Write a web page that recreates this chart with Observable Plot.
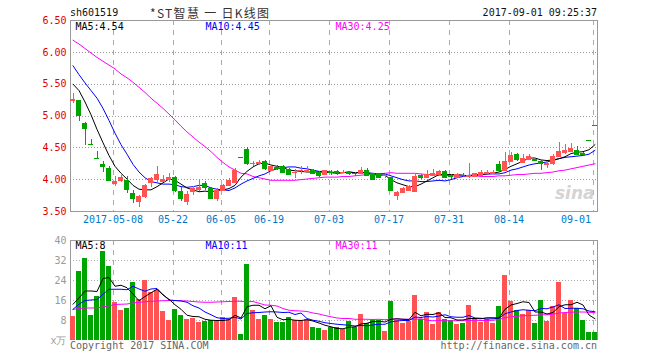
<!DOCTYPE html>
<html><head><meta charset="utf-8">
<script src="https://cdn.jsdelivr.net/npm/d3@7"></script>
<script src="https://cdn.jsdelivr.net/npm/@observablehq/plot@0.6"></script>
<style>
body{margin:0;background:#fff;}
#wrap{position:relative;width:660px;height:360px;overflow:hidden;font-family:"DejaVu Sans Mono",monospace;background:#fff;}
.t{position:absolute;font-size:10px;line-height:12px;white-space:pre;}
#p1{position:absolute;left:0;top:0;}
#p2{position:absolute;left:0;top:230px;}
#p1 svg rect, #p2 svg rect, #p1 svg line, #p2 svg line{shape-rendering:crispEdges;}
</style></head><body>
<div id="wrap">
<div id="p1"></div><div id="p2"></div>
<div class="t" style="left:70px;top:7px;color:#111">sh601519</div>
<div class="t" style="left:150px;top:5px;font-family:'Noto Sans CJK SC',sans-serif;font-size:12px;line-height:16px;color:#333;letter-spacing:1.3px">*ST智慧 一 日K线图</div>
<div class="t" style="right:63px;top:7px;color:#111">2017-09-01 09:25:37</div>
<div class="t" style="left:70px;top:340px;color:#666">Copyright 2017 SINA.COM</div>
<div class="t" style="right:63px;top:340px;color:#666">http://finance.sina.com.cn</div>
</div>
<script>
const open = [5.25,5.25,4.89,4.56,4.33,4.24,4.17,3.94,3.99,3.99, 3.79,3.66,3.73,3.95,4.00,3.97,4.00,4.03,3.81,3.66, 3.81,3.84,3.94,3.86,3.70,3.83,3.91,3.96,4.35,4.48, 4.25,4.26,4.29,4.15,4.19,4.21,4.16,4.11,4.14,4.13, 4.15,4.12,4.08,4.12,4.13,4.11,4.12,4.10,4.09,4.15, 4.09,4.09,4.06,4.03,3.75,3.80,3.83,3.82,4.06,4.04, 4.07,4.08,4.13,4.06,4.04,4.07,4.05,4.05,4.07,4.09, 4.10,4.24,4.14,4.29,4.39,4.27,4.32,4.32,4.29,4.24, 4.25,4.37,4.42,4.44,4.46,4.41,4.62,4.85];
const high = [5.36,5.25,4.90,4.63,4.45,4.28,4.20,4.05,4.07,4.05, 3.83,3.75,3.93,4.03,4.20,4.07,4.09,4.05,3.87,3.82, 3.89,3.98,3.97,3.88,3.86,3.93,4.02,4.18,4.35,4.50, 4.29,4.30,4.30,4.21,4.22,4.23,4.18,4.16,4.20,4.21, 4.16,4.13,4.15,4.14,4.15,4.14,4.13,4.11,4.19,4.17, 4.10,4.10,4.09,4.04,3.81,3.88,3.91,4.09,4.08,4.14, 4.16,4.15,4.14,4.08,4.09,4.09,4.25,4.10,4.15,4.14, 4.14,4.29,4.42,4.43,4.41,4.40,4.39,4.34,4.30,4.29, 4.39,4.59,4.55,4.57,4.52,4.43,4.62,4.85];
const low = [5.20,4.91,4.54,4.56,4.33,4.12,3.98,3.90,3.96,3.78, 3.62,3.56,3.70,3.87,3.96,3.95,3.96,3.80,3.66,3.59, 3.75,3.82,3.83,3.70,3.66,3.82,3.90,3.95,4.35,4.23, 4.21,4.22,4.14,4.13,4.15,4.10,4.06,4.02,4.08,4.10, 4.08,4.04,4.07,4.06,4.06,4.09,4.07,4.05,4.08,4.06, 3.98,4.03,4.02,3.81,3.68,3.78,3.82,3.80,4.00,4.03, 4.06,4.07,4.02,4.01,4.02,4.03,4.02,4.04,4.06,4.08, 4.08,4.13,4.13,4.27,4.28,4.25,4.30,4.28,4.14,4.18, 4.22,4.35,4.40,4.42,4.38,4.37,4.62,4.85];
const close = [5.26,5.01,4.80,4.56,4.33,4.20,3.99,3.97,4.03,3.84, 3.70,3.73,3.91,4.02,4.08,4.01,4.03,3.83,3.71,3.76, 3.86,3.88,3.87,3.70,3.83,3.91,3.99,4.14,4.35,4.25, 4.26,4.27,4.17,4.20,4.17,4.12,4.08,4.12,4.15,4.15, 4.10,4.06,4.14,4.11,4.11,4.12,4.10,4.09,4.15,4.07, 4.00,4.04,4.07,3.83,3.80,3.86,3.89,4.05,4.04,4.08, 4.10,4.13,4.04,4.05,4.08,4.06,4.07,4.09,4.12,4.12, 4.12,4.15,4.28,4.38,4.31,4.34,4.37,4.30,4.25,4.26, 4.37,4.45,4.46,4.49,4.40,4.40,4.62,4.85];
const volume = [9.6,27.6,33.0,10.0,17.8,35.7,29.6,15.3,12.0,12.7, 23.2,16.4,23.9,19.1,20.1,11.6,8.0,12.6,10.0,8.5, 8.9,7.3,7.8,8.0,7.8,9.2,8.6,17.1,2.4,30.4, 12.0,8.5,10.0,8.5,7.3,7.3,9.2,8.2,8.2,8.5, 5.1,4.8,3.9,5.1,5.1,4.6,7.6,5.1,10.5,6.9, 8.0,8.0,3.7,15.7,8.0,6.9,7.6,18.2,8.6,11.2, 6.5,11.2,8.6,8.0,6.5,6.9,14.1,8.6,7.3,8.6, 6.9,13.7,25.9,15.7,12.0,10.3,11.9,6.9,16.1,7.6, 13.7,23.1,10.9,16.2,12.7,8.0,3.2,3.2];
const ma5 = [5.50,5.40,5.22,5.02,4.79,4.58,4.38,4.21,4.10,4.01, 3.91,3.85,3.84,3.84,3.89,3.95,4.01,3.99,3.93,3.87, 3.84,3.81,3.82,3.81,3.83,3.84,3.86,3.91,4.04,4.13, 4.20,4.25,4.26,4.23,4.21,4.19,4.15,4.14,4.13,4.12, 4.12,4.12,4.12,4.11,4.10,4.11,4.12,4.11,4.11,4.11, 4.08,4.07,4.07,4.00,3.95,3.92,3.89,3.89,3.93,3.98, 4.03,4.08,4.08,4.08,4.08,4.07,4.06,4.07,4.08,4.09, 4.10,4.12,4.16,4.21,4.25,4.29,4.34,4.34,4.31,4.30, 4.31,4.33,4.36,4.41,4.43,4.44,4.47,4.55];
const ma10 = [5.79,5.65,5.52,5.40,5.28,5.12,4.93,4.73,4.55,4.40, 4.24,4.12,4.03,3.97,3.95,3.93,3.93,3.92,3.89,3.88, 3.89,3.91,3.91,3.87,3.85,3.84,3.83,3.87,3.93,3.98, 4.02,4.06,4.09,4.14,4.17,4.19,4.20,4.20,4.18,4.17, 4.15,4.13,4.13,4.12,4.11,4.11,4.12,4.11,4.11,4.11, 4.10,4.09,4.09,4.06,4.03,4.00,3.98,3.98,3.97,3.97, 3.98,3.99,3.98,4.00,4.03,4.05,4.07,4.07,4.08,4.09, 4.09,4.09,4.11,4.15,4.17,4.20,4.23,4.25,4.26,4.28, 4.30,4.33,4.35,4.36,4.37,4.38,4.40,4.46];
const ma30 = [6.19,6.13,6.06,5.99,5.92,5.86,5.80,5.74,5.66,5.60, 5.53,5.45,5.37,5.28,5.20,5.12,5.03,4.94,4.84,4.75, 4.67,4.59,4.52,4.44,4.35,4.27,4.20,4.15,4.10,4.09, 4.05,4.03,4.01,3.99,3.99,3.99,3.99,3.99,4.00,4.01, 4.02,4.03,4.04,4.04,4.04,4.05,4.05,4.06,4.07,4.08, 4.09,4.09,4.10,4.11,4.10,4.10,4.10,4.10,4.09,4.08, 4.08,4.07,4.07,4.06,4.06,4.06,4.06,4.06,4.05,4.05, 4.05,4.06,4.06,4.07,4.08,4.08,4.09,4.10,4.10,4.11, 4.12,4.14,4.15,4.17,4.19,4.21,4.23,4.25];
const vma5 = [14.5,17.0,19.8,19.8,19.6,24.8,25.2,21.7,22.1,21.1, 18.6,15.9,17.6,19.1,20.5,18.2,16.5,14.3,12.5,10.1, 9.6,9.5,8.5,8.1,8.0,8.0,8.3,10.1,9.0,13.5, 14.1,14.1,12.7,13.9,9.3,8.3,8.5,8.1,8.0,8.3, 7.8,7.0,6.1,5.5,4.8,4.7,5.3,5.5,6.6,6.9, 7.6,7.7,7.4,8.5,8.7,8.5,8.4,11.3,9.9,10.5, 10.4,11.1,9.2,9.1,8.2,8.2,8.8,8.8,8.7,9.1, 9.1,9.0,12.5,14.2,14.8,15.5,15.2,11.4,11.4,10.6, 11.2,13.5,14.3,14.3,15.3,14.2,10.2,8.7];
const vma10 = [12.5,14.5,16.0,16.2,16.4,18.5,20.5,20.5,20.5,20.3, 21.7,20.6,19.7,20.6,20.8,18.4,16.2,16.0,15.8,15.3, 13.9,13.0,11.4,10.3,9.1,8.8,8.9,9.3,8.6,10.8, 11.1,11.2,11.4,11.5,11.4,11.2,11.3,10.4,11.0,8.8, 8.1,7.7,7.1,6.8,6.5,6.3,6.1,5.8,6.0,5.9, 6.2,6.5,6.5,7.5,7.8,8.0,8.0,9.4,9.2,9.6, 9.4,9.8,10.3,9.5,9.3,9.3,10.0,9.0,8.9,8.6, 8.7,8.9,10.7,11.4,12.0,12.3,12.1,11.9,12.8,12.7, 13.4,14.3,12.8,12.9,12.9,12.7,11.8,11.5];
const vma30 = [12.4,12.8,13.0,13.0,13.1,13.4,13.9,14.4,14.5,14.6, 15.0,15.3,15.5,15.7,15.8,15.9,16.0,16.0,15.9,15.8, 15.6,15.4,15.3,15.3,15.4,15.5,15.6,15.7,15.7,15.5, 15.6,14.9,14.2,14.1,13.8,12.8,12.1,11.9,11.8,11.6, 11.0,10.6,10.0,9.5,9.0,8.8,8.8,8.5,8.5,8.5, 8.4,8.5,8.3,8.6,8.6,8.5,8.5,8.5,8.7,8.1, 7.9,8.0,7.9,7.9,7.9,7.9,8.0,8.1,8.0,8.0, 8.1,8.4,9.1,9.5,9.7,9.9,10.0,10.1,10.3,10.3, 10.5,11.0,11.2,11.3,11.4,11.4,11.3,11.1];
const tickIndex = [7,17,25,33,43,53,63,73,87];
const tickLabel = ["2017-05-08","05-22","06-05","06-19","07-03","07-17","07-31","08-14","09-01"];
const priceTicks = [3.5,4,4.5,5,5.5,6,6.5];
const volTicks = [0,8,16,24,32,40];
const maNames = ["MA5","MA10","MA30"];
const maPriceLast = ["4.54","4.45","4.25"];
const maVolLast = ["8","11","11"];

const RED = "#ff5252", GREEN = "#00a400";
const maColors = ["#000000","#0000ff","#ff00ff"];
const n = open.length;
const rows = open.map((o,i)=>({i, o, h:high[i], l:low[i], c:close[i], v:volume[i], col: close[i] > o ? RED : GREEN}));
const xt = tickIndex.map((i,k)=>({i, label: tickLabel[k]}));
const xDomain = [-5/12, n - 1 + 5/12];
const half = 5/12;
const font = {fontFamily:"'DejaVu Sans Mono', monospace", fontSize:"10px", background:"transparent", overflow:"visible"};

const price = Plot.plot({
  width:660, height:230, marginLeft:70, marginRight:63, marginTop:20, marginBottom:19,
  style:{...font, color:"#e00000"},
  x:{domain:xDomain, axis:null},
  y:{domain:[3.5,6.5], ticks:priceTicks, tickFormat:d=>d.toFixed(2), tickSize:0, tickPadding:4, label:null},
  color:{type:"identity"},
  marks:[
    Plot.ruleY(priceTicks.slice(1,-1), {stroke:"#999", strokeDasharray:"1,2"}),
    Plot.ruleX(tickIndex, {dx:-2, stroke:"#aaa", strokeDasharray:"5,5"}),
    Plot.text(["sina"], {frameAnchor:"bottom-right", dx:-3, dy:-18, fill:"#d4d4d4", fontSize:17, fontWeight:"bold", fontStyle:"italic", fontFamily:"DejaVu Sans, sans-serif", textAnchor:"end", lineAnchor:"middle"}),
    Plot.frame({stroke:"#999"}),
    Plot.line(ma30, {x:(d,i)=>i, y:d=>d, stroke:maColors[2], strokeWidth:1}),
    Plot.line(ma10, {x:(d,i)=>i, y:d=>d, stroke:maColors[1], strokeWidth:1}),
    Plot.line(ma5, {x:(d,i)=>i, y:d=>d, stroke:maColors[0], strokeWidth:1}),
    Plot.ruleX(rows, {x:"i", y1:"l", y2:"h", stroke:"col"}),
    Plot.rect(rows, {x1:d=>d.i-half, x2:d=>d.i+half, y1:d=>Math.min(d.o,d.c), y2:d=>Math.max(d.o,d.c), fill:"col"}),
    Plot.ruleY(rows, {x1:d=>d.i-half, x2:d=>d.i+half, y:"o", stroke:"col"}),
    Plot.ruleY(rows, {x1:d=>d.i-half, x2:d=>d.i+half, y:"c", stroke:"col"}),
    Plot.text(xt.slice(0,-1), {x:"i", text:"label", frameAnchor:"bottom", dx:-2, dy:11, fill:"#0078c8"}),
    Plot.text(xt.slice(-1), {x:"i", text:"label", frameAnchor:"bottom", dx:-4, dy:11, fill:"#0078c8", textAnchor:"end"}),
    ...maNames.map((m,k)=>Plot.text([m+":"+maPriceLast[k]], {text:d=>d, frameAnchor:"top-left", dx:5+130*k, dy:6, lineAnchor:"middle", textAnchor:"start", fill:maColors[k]}))
  ]
});
document.getElementById("p1").appendChild(price);

const vol = Plot.plot({
  width:660, height:130, marginLeft:70, marginRight:63, marginTop:10, marginBottom:20,
  style:{...font, color:"#9a9a9a"},
  x:{domain:xDomain, axis:null},
  y:{domain:[0,40], ticks:volTicks, tickFormat:d=>d===0?"x万":String(d), tickSize:0, tickPadding:4, label:null},
  color:{type:"identity"},
  marks:[
    Plot.ruleY(volTicks.slice(1,-1), {stroke:"#aaa", strokeDasharray:"1,2"}),
    Plot.ruleX(tickIndex, {dx:-2, stroke:"#aaa", strokeDasharray:"5,5"}),
    Plot.ruleY([volTicks[volTicks.length-1]], {stroke:"#999"}),
    Plot.ruleX(xDomain, {y1:0, y2:40, stroke:"#999"}),
    Plot.rect(rows, {x1:d=>d.i-half, x2:d=>d.i+half, y1:0, y2:"v", fill:"col"}),
    Plot.line(vma30, {x:(d,i)=>i, y:d=>d, stroke:maColors[2], strokeWidth:1}),
    Plot.line(vma10, {x:(d,i)=>i, y:d=>d, stroke:maColors[1], strokeWidth:1}),
    Plot.line(vma5, {x:(d,i)=>i, y:d=>d, stroke:maColors[0], strokeWidth:1}),
    ...maNames.map((m,k)=>Plot.text([m+":"+maVolLast[k]], {text:d=>d, frameAnchor:"top-left", dx:5+130*k, dy:5, lineAnchor:"middle", textAnchor:"start", fill:maColors[k]}))
  ]
});
document.getElementById("p2").appendChild(vol);
</script>
</body></html>
